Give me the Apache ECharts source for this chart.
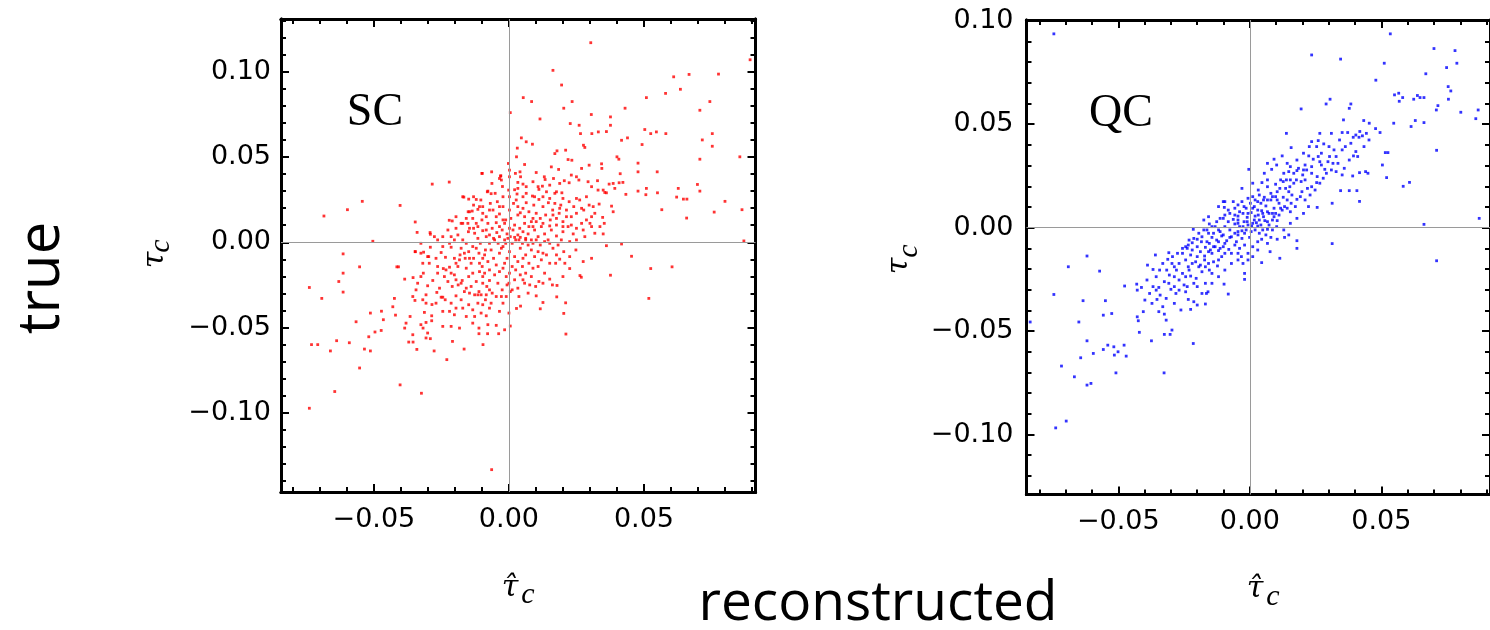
<!DOCTYPE html>
<html><head><meta charset="utf-8">
<script src="https://cdn.jsdelivr.net/npm/echarts@6/dist/echarts.min.js"></script>
<style>html,body{margin:0;padding:0;background:#fff}#c{width:1490px;height:630px}</style>
</head><body><div id="c"></div>
<script>
// ---- data ----
const panelNames = ['SC', 'QC'];
const scPoints = [
[0.0303,0.117],[0.0893,0.107],[0.0163,0.1008],[0.061,0.097],[0.0667,0.0984],[0.0776,0.0986],[0.0195,0.0922],[0.0635,0.0897],[0.058,0.0873],[0.0053,0.0848],[0.0084,0.0825],[0.0234,0.0825],[0.0744,0.0825],[0.0707,0.0774],[0.0509,0.0848],[0.0203,0.0786],[0.043,0.0786],[0.0005,0.076],[0.0305,0.0749],[0.0376,0.0735],[0.0115,0.0723],[0.0227,0.0696],[0.026,0.0686],[0.0376,0.0686],[0.0503,0.0661],[0.0525,0.0637],[0.0546,0.0647],[0.0581,0.0637],[0.0716,0.06],[0.0753,0.0637],[0.0753,0.0563],[0.0331,0.0647],[0.0361,0.0649],[0.0307,0.0637],[0.0265,0.0637],[0.0417,0.0598],[0.0439,0.0612],[0.0493,0.0573],[0.0707,0.0487],[0.0855,0.0501],[0.0698,0.0339],[0.0707,0.03],[0.08,0.024],[0.0863,0.0191],[0.076,0.0177],[0.0658,0.0142],[0.0627,0.0316],[0.0621,0.0265],[0.0646,0.0253],[0.0659,0.0253],[0.0549,0.0413],[0.055,0.029],[0.0566,0.0191],[0.0478,0.0464],[0.0478,0.0413],[0.0478,0.03],[0.0509,0.0316],[0.0507,0.0279],[0.087,0.0008],[0.0604,-0.0144],[0.0525,-0.0154],[0.0518,-0.0329],[0.0454,-0.0082],[0.0417,-0.001],[0.0376,-0.0193],[0.0361,-0.002],[0.0263,-0.0195],[0.0268,-0.0205],[0.0211,-0.0538],[0.0203,-0.0417],[0.021,-0.0355],[0.0225,-0.0154],[0.0177,-0.032],[0.0178,-0.0253],[0.0126,-0.0353],[0.0116,-0.039],[0.0101,-0.0314],[0.0028,-0.0388],[0.0043,-0.0374],[0.0005,-0.0491],[-0.0016,-0.0513],[-0.0047,-0.0487],[-0.0038,-0.0536],[-0.0064,-0.1333],[-0.0079,-0.0536],[-0.0111,-0.0503],[-0.0111,-0.0536],[-0.0096,-0.06],[-0.0166,-0.0626],[-0.0209,-0.0581],[-0.023,-0.0688],[-0.0277,-0.0637],[-0.0324,-0.0885],[-0.0403,-0.0836],[-0.0307,-0.0561],[-0.0291,-0.0565],[-0.0341,-0.0628],[-0.0355,-0.0585],[-0.0371,-0.0585],[-0.0386,-0.0503],[-0.0318,-0.0503],[-0.043,-0.0378],[-0.0424,-0.0329],[-0.042,-0.0427],[-0.0472,-0.0404],[-0.0465,-0.0454],[-0.0473,-0.0517],[-0.0496,-0.0526],[-0.0513,-0.0415],[-0.0519,-0.0554],[-0.0513,-0.0637],[-0.0535,-0.0626],[-0.0553,-0.0737],[-0.0566,-0.0466],[-0.0591,-0.0589],[-0.0638,-0.0577],[-0.0661,-0.0637],[-0.0645,-0.0875],[-0.0708,-0.06],[-0.0731,-0.06],[-0.0739,-0.0265],[-0.0739,-0.0973],[-0.0693,-0.0329],[-0.063,-0.023],[-0.0614,-0.0292],[-0.0614,-0.0181],[-0.0614,-0.0068],[-0.0553,-0.0144],[-0.0504,0.0006],[-0.0685,0.0154],[-0.0598,0.0191],[-0.0543,0.024],[-0.0403,0.0216],[-0.0284,0.0341],[-0.0221,0.0353],[-0.0415,-0.0144],[-0.0409,-0.0144],[-0.0386,-0.0216],[-0.0355,-0.0207],[-0.0347,0.0119],[-0.034,0.0058],[-0.0347,-0.0055],[-0.0291,0.0047],[-0.0276,0.0033],[-0.0291,-0.0029],[-0.0316,-0.0058],[-0.0297,-0.0084],[-0.0221,0.0129],[-0.0167,0.0265],[-0.0099,0.0404],[-0.0064,0.0413],[-0.0031,0.0388],[-0.0002,0.0462],[0.0028,0.0501],[0.0046,0.0612],[0.0064,0.0589],[0.0031,0.0552],[0.0087,0.0575],[-0.008,0.0296],[-0.0146,0.0179],[-0.0136,0.0183],
[0.0002,0.0423],[0.0041,0.0413],[0.0058,0.0456],[0.0101,0.0409],[0.0131,0.0384],[0.0157,0.0442],[0.017,0.052],[0.0178,0.0536],[0.0184,0.0427],[0.021,0.054],[0.0219,0.0485],[0.0233,0.0481],[0.0276,0.0569],[0.0281,0.0556],[0.0269,0.0433],[0.0297,0.0452],[0.0343,0.046],[0.0344,0.0433],[0.04,0.0501],[0.0407,0.0487],[0.0412,0.0402],[-0.003,0.039],[-0.01,0.0404],
[-0.0035,0.0374],[-0.0028,0.0365],[0.0002,0.0384],[0.0024,0.0404],[0.0033,0.0351],[0.0043,0.0384],[0.0052,0.0341],[0.0064,0.0326],[0.0089,0.0355],[0.0108,0.0326],[0.0124,0.0329],[0.0134,0.0368],[0.0151,0.0335],[0.0165,0.0374],[0.0188,0.0345],[0.0205,0.0361],[0.0223,0.0349],[0.0231,0.0394],[0.025,0.0384],[0.0259,0.0365],[0.0293,0.0355],[0.0306,0.0326],[0.0328,0.0361],[0.0349,0.0306],[0.0355,0.0292],[0.0371,0.0341],[0.0386,0.0345],[0.0408,0.0349],[0.0422,0.0351],[0.0433,0.0281],[0.0392,0.0316],[0.033,0.0306],[0.0361,0.029],[0.0196,0.029],[0.017,0.0287],[0.0139,0.0296],[0.0111,0.031],[0.0087,0.0271],[0.0064,0.0287],[0.003,0.0283],[0.0021,0.0308],[-0.0001,0.0306],[-0.0024,0.0327],[-0.0051,0.0287],[-0.0066,0.0285],[-0.0078,0.03],[-0.0104,0.0248],[-0.0121,0.0251],[-0.0131,0.0267],[-0.0149,0.0253],[-0.0063,0.0345],
[-0.0171,0.0267],[-0.0151,0.0179],[-0.0134,0.014],[-0.0115,0.0193],[-0.0097,0.0209],[-0.0084,0.015],[-0.0069,0.0228],[-0.0059,0.0189],[-0.0043,0.0238],[-0.0035,0.0166],[-0.0022,0.0209],[-0.0012,0.0131],[0.0002,0.0189],[0.0007,0.014],[0.0017,0.0228],[0.0027,0.0248],[0.0033,0.0209],[0.0042,0.0173],[0.0052,0.0199],[0.0058,0.015],[0.0064,0.0232],[0.0074,0.0179],[0.0083,0.0121],[0.0092,0.0218],[0.0101,0.017],[0.0111,0.0251],[0.0116,0.014],[0.0126,0.0209],[0.0136,0.016],[0.0146,0.0232],[0.0153,0.0131],[0.0162,0.0189],[0.017,0.0228],[0.0176,0.014],[0.0186,0.017],[0.0192,0.0218],[0.02,0.0121],[0.0213,0.0189],[0.0223,0.0238],[0.0231,0.015],[0.024,0.0209],[0.025,0.017],[0.0262,0.0248],[0.0277,0.0189],[0.0287,0.0131],[0.0297,0.0218],[0.0306,0.015],[0.0318,0.017],[0.0334,0.0224],[0.0347,0.0146],[0.0353,0.0111],[0.038,0.0212],[0.0386,0.0179],[0.025,0.0257],[-0.021,0.0125],[-0.0196,0.015],[-0.0177,0.0111],[-0.0158,0.014],[-0.0121,0.0111],[-0.01,0.0131],[-0.0078,0.0111],[-0.0047,0.0115],
[-0.0292,0.0057],[-0.0226,0.0072],[-0.0214,0.0033],[-0.0189,0.0043],[-0.0171,0.0014],[-0.015,0.0062],[-0.0131,0.0082],[-0.0115,0.0023],[-0.0097,0.0068],[-0.0084,0.0033],[-0.0072,0.0043],[-0.0062,0.0082],[-0.0053,0.0014],[-0.0045,0.0057],[-0.0035,0.0033],[-0.0025,0.0072],[-0.0016,0.0014],[-0.0007,0.0049],[0.0005,0.0033],[0.0015,0.0072],[0.0025,0.0014],[0.0033,0.0043],[0.0042,0.0029],[0.0052,0.0062],[0.0062,0.0023],[0.0071,0.0049],[0.0083,0.0014],[0.0095,0.0072],[0.0108,0.0033],[0.012,0.0092],[0.0132,0.0049],[0.0145,0.0014],[0.0157,0.0072],[0.0176,0.0037],[0.0194,0.0014],[0.02,0.0062],[0.0219,0.0092],[0.0238,0.0049],[0.025,0.0014],[0.0275,0.0072],[0.0281,0.0033],[0.0306,0.0092],[0.0318,0.0053],[0.0349,0.0049],[0.03,0.0111],[0.0231,0.0101],[0.0151,0.0096],[0.0074,0.0092],[0.004,0.0082],
[-0.0347,-0.0055],[-0.0326,-0.0064],[-0.0301,-0.0084],[-0.027,-0.0094],[-0.0251,-0.006],[-0.0235,-0.0088],[-0.0214,-0.0029],[-0.0196,-0.0123],[-0.0181,-0.0074],[-0.0162,-0.0094],[-0.0146,-0.0094],[-0.0131,-0.0094],[-0.0121,-0.0035],[-0.0109,-0.0123],[-0.0099,-0.0142],[-0.009,-0.0074],[-0.0078,-0.0113],[-0.0066,-0.0045],[-0.0057,-0.0094],[-0.0047,-0.0133],[-0.0035,-0.0064],[-0.0022,-0.0025],[-0.0016,-0.0123],[-0.0007,-0.0094],[0.0002,-0.0055],[0.0012,-0.0142],[0.0021,-0.0084],[0.0033,-0.0113],[0.0042,-0.0035],[0.0052,-0.0094],[0.0062,-0.0074],[0.0074,-0.0123],[0.0083,-0.0045],[0.0095,-0.0084],[0.0108,-0.0142],[0.012,-0.0103],[0.0139,-0.0074],[0.0173,-0.0123],[0.0188,-0.0099],[0.0203,-0.0055],[0.0248,-0.0045],[0.0275,-0.0113],[0.0306,-0.0094],[-0.0158,-0.0152],[-0.0189,-0.0142],[-0.022,-0.0146],[-0.0243,-0.0154],[-0.0264,-0.0142],
[-0.0338,-0.024],[-0.0317,-0.0181],[-0.0301,-0.0255],[-0.0282,-0.0224],[-0.0264,-0.0181],[-0.0257,-0.0269],[-0.0239,-0.0201],[-0.0226,-0.023],[-0.021,-0.0259],[-0.0202,-0.0191],[-0.0188,-0.025],[-0.0173,-0.0224],[-0.0165,-0.0289],[-0.0149,-0.0201],[-0.014,-0.0259],[-0.0121,-0.023],[-0.0111,-0.0289],[-0.0097,-0.0201],[-0.0082,-0.0259],[-0.0072,-0.0224],[-0.0062,-0.0298],[-0.0053,-0.0191],[-0.0041,-0.024],[-0.0025,-0.0279],[-0.001,-0.0201],[-0.0007,-0.025],[0.0005,-0.0289],[0.0021,-0.022],[0.0033,-0.0269],[0.0042,-0.0191],[0.0058,-0.024],[0.0071,-0.0298],[0.0083,-0.0201],[0.0099,-0.0259],[0.0111,-0.023],[0.0132,-0.0181],[0.0151,-0.0216],[0.0161,-0.025],[0.02,-0.0201],[-0.0344,-0.0279],[-0.0307,-0.0308],[-0.0267,-0.0294],[-0.0245,-0.0322],[-0.0196,-0.0314],[-0.0146,-0.0298],[-0.0127,-0.0308],[-0.0115,-0.0308],[-0.0103,-0.0308],[-0.0084,-0.0308],[-0.0047,-0.0318],[-0.001,-0.0318],
[-0.0348,-0.0341],[-0.0307,-0.0357],[-0.0285,-0.0365],[-0.0251,-0.0322],[-0.0236,-0.0337],[-0.0214,-0.0357],[-0.0196,-0.0386],[-0.0177,-0.0337],[-0.0149,-0.0366],[-0.0097,-0.0366],[-0.0087,-0.0337],[-0.0066,-0.0357],[-0.0035,-0.0405],[0,-0.0415],[-0.0245,-0.0405],[-0.022,-0.0405],[-0.0202,-0.0425],[-0.0158,-0.0435],[-0.0127,-0.0435],[-0.0313,-0.0411],[-0.0286,-0.0431],[-0.0286,-0.046],[-0.0307,-0.047],[-0.0326,-0.0483],[-0.0366,-0.0435],[-0.0381,-0.0474],[-0.0356,-0.0542],[-0.0245,-0.0493],[-0.0214,-0.0493],[-0.0183,-0.0503],[-0.0134,-0.0474],[-0.0078,-0.0483],[-0.0301,-0.0532],[-0.0084,-0.0431],
[-0.0152,0.0111],[-0.0127,0.0053],[-0.0106,-0.0006],[-0.0087,-0.0045],[-0.0072,-0.0006],[-0.0057,0.0023],[-0.004,-0.0006],[-0.0028,-0.0035],[-0.0012,-0.0006],[-0.0004,0.0023],[0.0012,-0.0006],[0.0021,0.0029],[0.0037,0.0014],[0.005,-0.0006],[0.0062,0.0014],[0.0071,-0.0016],[0.0089,-0.0006],[0.0101,0.0014],[0.0116,-0.0016],[0.0132,0.0004],[0.0151,-0.0006],[0.0163,-0.0035],[0.0182,-0.0016],[-0.0097,-0.0094],[-0.0111,-0.0064],[-0.014,-0.0123],[-0.0165,-0.0064],[-0.0183,-0.0103],[-0.0202,-0.0094],[-0.0134,-0.0181],[-0.0109,-0.0172],[-0.009,-0.0181],[-0.0072,-0.0162],[-0.0035,-0.0172],[-0.0022,-0.0152],[0.0002,-0.0181],[0.0025,-0.0162],[0.005,-0.0142],[0.0062,-0.0181],[0.0089,-0.0152],[0,-0.024],[0.0012,-0.0279],[-0.0028,-0.0318],[-0.0072,-0.0279],[-0.0097,-0.024],[-0.0158,-0.0269],[-0.0177,-0.024],[-0.0196,-0.022],[-0.0214,-0.0181],[-0.0149,-0.0055],[-0.0134,-0.0025],[-0.0158,-0.0006],[-0.0177,-0.0035],[-0.0202,0.0014],[-0.022,-0.0006],[-0.0245,-0.0025],[-0.0264,0.0014],[-0.0245,0.0033],[-0.0196,0.0082],[-0.0171,0.0111],[-0.0146,0.0082],[-0.0115,0.0092],[-0.0084,0.0072],[-0.0035,0.0092],[-0.0016,0.0111],[0.0002,0.0082],[0.0021,0.0101],[0.0058,0.0111],[0.0089,0.0092],[0.0101,0.0121],[0.0126,0.0111],[0.0176,0.0101],[0.02,0.0092],[0.025,0.0082],[0.0269,0.0111],[0.0213,0.015],[0.0269,0.0199],[0.02,0.0257],[0.0176,0.0296],[0.0151,0.0257],[0.0126,0.0267],[0.0095,0.0267],[0.0052,0.0267],[0.0033,0.0316],[0.0002,0.0267],[-0.0022,0.0267],[-0.0035,0.0209],[-0.0072,0.0189],[-0.0097,0.017],[-0.0109,0.0209],[-0.0131,0.0218],[-0.0047,0.015],[-0.0022,0.0131],[0.0033,0.016],[0.0089,0.014],[0.0163,0.016],[0.0188,0.0199],[0.0287,0.0267],[0.0312,0.0209],[0.0337,0.0092],[0.0225,0.0004],[0.0176,-0.0074],[0.0151,-0.0123],[0.0126,-0.0064],[0.0108,-0.0055],[0.0207,-0.0123],[0.0225,-0.0084],[0.0052,-0.022],[0.0077,-0.025],[0.0126,-0.024],[0.0037,-0.0318],[-0.0022,-0.0357],[-0.0072,-0.0386],[-0.0115,-0.0357],[-0.0134,-0.0396],[-0.0171,-0.0386],[-0.0103,-0.0415],[-0.027,-0.0357],[-0.0319,-0.0337],[-0.0356,-0.0318],[-0.0326,-0.0201],[-0.0295,-0.0123],[-0.0233,-0.0162],[-0.0326,-0.0006],[-0.0319,-0.0123]
];
const qcPoints = [
[-0.0745,0.0937],[0.0534,0.0937],[0.07,0.0866],[0.078,0.0856],[0.0787,0.0795],[0.0748,0.0774],[0.0235,0.0835],[0.0345,0.0815],[0.0511,0.0795],[0.0669,0.0744],[0.0479,0.0713],[0.0754,0.0682],[0.0764,0.0661],[0.0755,0.0621],[0.055,0.0642],[0.0566,0.065],[0.0568,0.0611],[0.0581,0.0629],[0.0623,0.0621],[0.0637,0.0639],[0.0647,0.0629],[0.0662,0.0629],[0.0715,0.059],[0.0709,0.0569],[0.0802,0.0558],[0.0868,0.0569],[0.0859,0.0527],[0.0547,0.0505],[0.0662,0.0508],[0.0629,0.0518],[0.0613,0.0489],[0.0495,0.046],[0.0478,0.0479],[0.0454,0.0505],[0.0433,0.0518],[0.071,0.0374],[0.0515,0.0363],[0.0525,0.0363],[0.0504,0.0303],[0.052,0.0242],[0.0583,0.02],[0.0607,0.0219],[0.0662,0.0016],[0.0872,0.0045],[0.071,-0.016],[0.0313,-0.0077],[0.0417,0.0127],[0.0407,0.0179],[0.0378,0.0179],[0.0345,0.0179],[0.0313,0.0118],[0.0256,0.0098],[0.0195,0.0574],[0.0139,0.0456],[0.029,0.0598],[0.0305,0.0621],[0.0384,0.0598],[0.0378,0.0577],[0.0356,0.0521],[0.0351,0.046],[0.0372,0.046],[0.0393,0.0437],[0.0403,0.0448],[0.0418,0.0465],[0.0415,0.0437],[0.0428,0.0444],[0.041,0.0344],[0.0394,0.0347],[0.0384,0.0408],[0.0363,0.0392],[0.0351,0.0376],[0.032,0.0376],[0.0301,0.0392],[0.0281,0.0405],[0.026,0.0421],[0.0235,0.0416],[0.0226,0.0392],[0.0224,0.0347],[0.0157,0.0387],[0.0123,0.0347],[0.0092,0.0331],[0.0067,0.0311],[0.0083,0.0282],[0.0102,0.0303],[0.0142,0.0311],[0.044,0.0271],[0.0449,0.0263],[0.0417,0.0266],[0.0391,0.025],[0.0359,0.0287],[0.0351,0.0255],[0.0328,0.0271],[0.0316,0.0311],[0.0297,0.0319],[0.0272,0.0303],[0.0285,0.0282],[0.0256,0.0247],[0.0235,0.0263],[0.0241,0.0331],[0.0254,0.0218],[0.0219,0.019],[0.021,0.0231],[0.0201,0.0255],[0.0195,0.0223],[0.0179,0.0276],[0.0177,0.0231],[0.0167,0.0215],[0.0152,0.0198],[0.0139,0.0231],[0.0127,0.0223],[0.0114,0.019],[0.0104,0.0174],[0.0098,0.021],[0.008,0.0166],[0.0067,0.0198],[0.0055,0.0147],[0.0046,0.0218],[0.016,0.0158],[0.0142,0.0134],[0.0132,0.0102],[0.0154,0.0077],[0.0148,0.0174],[0.0179,0.0137],[0.0198,0.0174],[0.0127,0.0147],[0.0111,0.0118],[0.0092,0.0094],[0.008,0.0134],[0.0073,0.0069],[0.0061,0.0105],[0.0045,0.0082],[0.003,0.0126],[0.0017,0.0102],[0.0011,0.015],[0.0002,0.0118],[-0.0004,0.0282],[-0.0014,0.0094],[-0.003,0.0126],[-0.0045,0.011],[-0.0063,0.0126],[-0.0095,0.0126],[-0.0097,0.0098],[-0.0119,0.0102],[-0.0175,0.0037],[-0.0215,-0.0008],[-0.0126,0.0029],[-0.0101,0.0045],[-0.0082,0.0029],[-0.0063,0.004],[-0.0045,0.0056],[-0.0026,0.0069],[-0.001,0.005],[0.0005,0.0073],[0.002,0.0056],[0.0036,0.0037],[0.0052,0.0053],[0.0067,0.0029],[0.0086,0.0037],[0.0104,0.0034],[0.0011,0.0021],[0.003,0.0008],[0.0049,-0.0011],[0.0067,-0.0008],[0.0086,-0.0011],[0.0102,0.0005],[-0.0007,0.0013],[-0.0022,0.0029],[-0.0039,0.0005],[-0.0057,0.0018],[-0.0076,-0.0011],[-0.0095,0.0005],[-0.0113,-0.0019],[-0.0045,-0.0019],[-0.002,-0.0027],[-0.0001,-0.0047],[-0.003,-0.0052],[-0.0051,-0.0068],[-0.007,-0.0044],[-0.0088,-0.0063],[-0.0107,-0.004],[-0.0126,-0.006],[-0.0144,-0.0047],[-0.0154,-0.0076],[-0.0169,-0.0095],[-0.0184,-0.0068],[-0.02,-0.0092],[-0.0219,-0.0108],[-0.0234,-0.0084],[-0.0225,-0.0132],[-0.02,-0.014],[-0.0172,-0.0137],[-0.0144,-0.0124],[-0.0119,-0.0111],[-0.0101,-0.0092],[-0.008,-0.0105],[-0.0057,-0.0084],[-0.0039,-0.01],[-0.002,-0.0084],[-0.0007,-0.0124],[0.0011,-0.0092],[0.003,-0.0068],[0.0045,-0.0056],[0.0061,-0.0035],[0.008,-0.0047],[0.0132,-0.0047],[0.0179,-0.0063],[0.0179,-0.01],[0.0077,-0.0116],[0.0045,-0.0169],[0.0114,-0.0148],[-0.002,-0.0221],[-0.002,-0.025],[-0.0082,-0.0321],[-0.0098,-0.0273],[-0.0123,-0.0185],[-0.0144,-0.0221],[-0.0157,-0.0173],[-0.0172,-0.0156],[-0.0182,-0.0213],[-0.0194,-0.0189],[-0.0204,-0.0245],[-0.0213,-0.0269],[-0.0225,-0.0234],[-0.0234,-0.0189],[-0.0238,-0.0285],[-0.0244,-0.0156],[-0.0256,-0.0221],[-0.0269,-0.0253],[-0.0279,-0.0205],[-0.0287,-0.0285],[-0.0306,-0.0229],[-0.0316,-0.0205],[-0.0325,-0.0261],[-0.0312,-0.0153],[-0.0308,-0.0121],[-0.0359,-0.0132],[-0.0389,-0.0181],[-0.0391,-0.0253],[-0.043,-0.0273],[-0.0428,-0.0302],[-0.0412,-0.0289],[-0.0368,-0.0285],[-0.0356,-0.0302],[-0.0346,-0.0289],[-0.0341,-0.0326],[-0.03,-0.0298],[-0.0281,-0.0318],[-0.0318,-0.0342],[-0.0353,-0.0347],[-0.0234,-0.0347],[-0.0213,-0.0358],[-0.0225,-0.0395],[-0.02,-0.0374],[-0.0169,-0.0369],[-0.0165,-0.0318],[-0.0331,-0.0382],[-0.0325,-0.0418],[-0.0346,-0.0406],[-0.0318,-0.0447],[-0.0405,-0.0406],[-0.0428,-0.0431],[-0.0424,-0.045],[-0.042,-0.0506],[-0.0374,-0.0547],[-0.0325,-0.0516],[-0.0303,-0.0516],[-0.0296,-0.0495],[-0.0215,-0.056],[-0.0326,-0.0702],[-0.0476,-0.0282],[-0.0549,-0.0353],[-0.0525,-0.0415],[-0.0557,-0.0423],[-0.0619,-0.0137],[-0.0571,-0.021],[-0.069,-0.0189],[-0.0745,-0.0323],[-0.0634,-0.0353],[-0.065,-0.0456],[-0.0619,-0.0547],[-0.0595,-0.0608],[-0.0643,-0.0629],[-0.0716,-0.0669],[-0.0667,-0.0721],[-0.0619,-0.0761],[-0.0604,-0.0753],[-0.0557,-0.0589],[-0.054,-0.0568],[-0.0517,-0.0576],[-0.0515,-0.0616],[-0.0501,-0.06],[-0.0509,-0.0702],[-0.0478,-0.0568],[-0.047,-0.0621],[-0.0738,-0.0968],[-0.0698,-0.0935],[-0.0835,-0.0456],
[-0.0057,-0.0027],[-0.0045,-0.0035],[-0.003,-0.0015],[-0.0014,-0.0011],[0.0005,-0.0019],[0.002,-0.0011],[0.0036,-0.0027],[0.0017,0.0037],[0.0032,0.0061],[0.0049,0.0069],[0.0067,0.0077],[0.0086,0.0069],[0.0098,0.0069],[0.0117,0.0094],[0.0104,0.0134],[0.0086,0.015],[0.0067,0.0134],[0.0042,0.0118],[0.003,0.0085],[0.0011,0.0094],[-0.0007,0.0069],[-0.0045,0.0037],[-0.0057,0.0061],[-0.0076,0.0069],[-0.0076,-0.0047],[-0.0095,-0.0076],[-0.0113,-0.01],[-0.0132,-0.0092],[-0.015,-0.0108],[-0.0163,-0.0068],[-0.0138,-0.0027],[-0.0157,-0.0027],[-0.0182,-0.0044],[-0.02,-0.0056],[-0.0219,-0.0073],[-0.0238,-0.01],[-0.0256,-0.0124],[-0.0269,-0.0173],[-0.0287,-0.0189],[-0.0219,-0.0173],[-0.0188,-0.0181],[-0.0169,-0.0189],[-0.0138,-0.0165],[-0.0107,-0.014],[-0.0095,-0.0124],[-0.007,-0.0124],[-0.0045,-0.0124],[-0.0032,-0.014],[-0.0119,-0.0156],[-0.0154,-0.0205],[-0.02,-0.0285],[-0.0244,-0.031],[-0.0169,-0.0269],[-0.0159,-0.031],[0.0148,0.0271],[0.0204,0.0279],[0.021,0.0303],[0.0235,0.0295],[0.026,0.0344],[0.0272,0.036],[0.0266,0.0319],[0.0303,0.0344],[0.0328,0.0344],[0.031,0.0279],[0.0167,0.0263],[0.0129,0.0263],[0.0117,0.0231],[0.0154,0.0295],[0.0055,0.0263],[0.0067,0.0231],[0.0032,0.0182],[0.0011,0.0215],[-0.003,0.019],[-0.0101,0.0126],[-0.0157,0.0053],[-0.0144,0.0005],[-0.0119,-0.0011],[-0.0175,-0.0011],
[-0.0045,0.0021],[-0.0026,0.0005],[-0.001,0.0029],[0.0007,0.0008],[0.0025,0.0024],[0.0042,0.0013],[0.0057,0.0034],[0.0073,0.0013],[0.0092,0.0053],[0.0111,0.0061],[0.0123,0.0085],[0.0142,0.0094],[0.0157,0.0118],[0.0173,0.0102],[0.0192,0.015],[0.021,0.0134],[0.0229,0.0158],[0.0235,0.0198],[0.0248,0.0182],[0.0266,0.0215],[0.0279,0.0239],[0.0291,0.0263],[0.0335,0.0311],[0.0378,0.0327],[0.0403,0.0368],[0.0434,0.0392],[0.0453,0.0424],[0.0443,0.0456],[0.0341,0.0424],[0.031,0.0456],[0.0266,0.0456],[0.0254,0.0392],[0.0204,0.036],[0.0179,0.0327],[0.0185,0.0287],[0.0216,0.0279],[0.0154,0.0231],[0.0136,0.019],[0.0098,0.015],[0.0052,0.0134],[0.0036,0.0158],[0.002,0.0134],[-0.0007,0.0142],[-0.0022,0.0102],[-0.0039,0.0077],[-0.0057,0.0094],[-0.0082,0.0085],[-0.0095,0.0061],[-0.0113,0.0045],[-0.0132,0.0005],[-0.0154,0.0018],[-0.0163,-0.0011],[-0.0194,-0.0027],[-0.0213,-0.0052],[-0.0231,-0.006],[-0.0244,-0.0092],[-0.0256,-0.01],[-0.0275,-0.0124],[-0.0294,-0.014],[-0.0296,-0.0173],[-0.0331,-0.0173],[-0.0343,-0.0205],[-0.0356,-0.0237],[-0.0368,-0.0202],[-0.0287,-0.0237],[-0.025,-0.0277],[-0.0269,-0.0302],[-0.0308,-0.0269],[-0.0381,-0.0318],[-0.0399,-0.035],[-0.0372,-0.0366],[-0.0287,-0.0366],[-0.0262,-0.0398],[-0.0182,-0.0318],[-0.0144,-0.0269],[-0.0119,-0.0237],[-0.0095,-0.0205],[-0.007,-0.0173],[-0.0045,-0.0156],[-0.0026,-0.0173],[-0.0007,-0.0156],[0.0011,-0.014],[0.003,-0.0108],[0.0067,-0.0076],[0.0104,-0.0056],[0.0148,-0.0035],[0.0129,-0.0011],[0.0154,0.0021],[0.0179,0.0045],[0.0204,0.0069],[0.0223,0.0102],[-0.0101,-0.0035],[-0.0119,-0.0068],[-0.0138,-0.0092],[-0.0157,-0.0116],[-0.0188,-0.0116],[-0.0206,-0.0165],[-0.0231,-0.0205],[-0.0244,-0.0237]
];
const xMajorTicks = [-0.05, 0.00, 0.05];
const yMajorTicks = [-0.10, -0.05, 0.00, 0.05, 0.10];
const xMinorTicks = [-0.08,-0.07,-0.06,-0.04,-0.03,-0.02,-0.01,0.01,0.02,0.03,0.04,0.06,0.07,0.08,0.09];
const yMinorTicksSC = [-0.14,-0.13,-0.12,-0.11,-0.09,-0.08,-0.07,-0.06,-0.04,-0.03,-0.02,-0.01,0.01,0.02,0.03,0.04,0.06,0.07,0.08,0.09,0.11,0.12,0.13];
const yMinorTicksQC = [-0.12,-0.11,-0.09,-0.08,-0.07,-0.06,-0.04,-0.03,-0.02,-0.01,0.01,0.02,0.03,0.04,0.06,0.07,0.08,0.09];
const xTitle = '\u03c4\u0302';
const yTitle = '\u03c4';
const subTitle = 'c';
const leftLabel = 'true';
const bottomLabel = 'reconstructed';

// ---- layout ----
const grids = [
  {left: 281, top: 19, width: 474.5, height: 473, xr: [-0.0844, 0.0913], yr: [-0.1464, 0.1309], yMinor: yMinorTicksSC, ylm: 10},
  {left: 1026.5, top: 20, width: 474.5, height: 474.5, xr: [-0.0849, 0.0913], yr: [-0.129, 0.1004], yMinor: yMinorTicksQC, ylm: 13}
];
const fmt = v => (v < 0 ? '\u2212' : '') + Math.abs(v).toFixed(2);

const xAxes = [], yAxes = [];
function mkAxis(g, pos, rng, ticks, len, showLabel, margin) {
  return {
    type: 'value', gridIndex: g, position: pos, min: rng[0], max: rng[1],
    axisLine: {show: true, onZero: false, lineStyle: {color: '#000', width: 3}},
    axisTick: {show: true, inside: true, length: len, customValues: ticks, lineStyle: {color: '#000', width: 2}},
    axisLabel: {show: showLabel, customValues: ticks, formatter: fmt, fontFamily: 'DejaVu Sans', fontSize: 27, color: '#000', margin: margin},
    splitLine: {show: false}, minorTick: {show: false}, axisPointer: {show: false}
  };
}
grids.forEach((gr, g) => {
  xAxes.push(mkAxis(g, 'bottom', gr.xr, xMajorTicks, 8, true, 14));
  xAxes.push(mkAxis(g, 'bottom', gr.xr, xMinorTicks, 5, false, 0));
  xAxes.push(mkAxis(g, 'top', gr.xr, xMajorTicks, 8, false, 0));
  xAxes.push(mkAxis(g, 'top', gr.xr, xMinorTicks, 5, false, 0));
  yAxes.push(mkAxis(g, 'left', gr.yr, yMajorTicks, 8, true, gr.ylm));
  yAxes.push(mkAxis(g, 'left', gr.yr, gr.yMinor, 5, false, 0));
  yAxes.push(mkAxis(g, 'right', gr.yr, yMajorTicks, 8, false, 0));
  yAxes.push(mkAxis(g, 'right', gr.yr, gr.yMinor, 5, false, 0));
});

const series = [];
[scPoints, qcPoints].forEach((pts, g) => {
  series.push({
    type: 'scatter', xAxisIndex: g * 4, yAxisIndex: g * 4, data: [], z: 1, silent: true,
    markLine: {silent: true, symbol: ['none', 'none'], label: {show: false}, animation: false,
      lineStyle: {color: '#9a9a9a', width: 1, type: 'solid'},
      data: [{xAxis: 0}, {yAxis: 0}]}
  });
  series.push({
    type: 'scatter', name: panelNames[g], xAxisIndex: g * 4, yAxisIndex: g * 4, data: pts, z: 3,
    symbol: 'rect', symbolSize: 2.8,
    itemStyle: {color: g === 0 ? '#ff0000' : '#0000ff'}
  });
});

function subTitleGroup(x, y, rot, main, dx, dy) {
  return {type: 'group', x: x, y: y, rotation: rot, children: [
    {type: 'text', x: 0, y: 0, style: {text: main, fontFamily: 'DejaVu Serif', fontStyle: 'italic', fontSize: 30, fill: '#000', align: 'center', verticalAlign: 'middle'}},
    {type: 'text', x: dx, y: dy, style: {text: subTitle, fontFamily: 'Liberation Serif', fontStyle: 'italic', fontSize: 30, fill: '#000', align: 'center', verticalAlign: 'middle'}}
  ]};
}

const graphic = [
  {type: 'text', x: 375, y: 113, style: {text: panelNames[0], fontFamily: 'Liberation Serif', fontSize: 46, fill: '#000', align: 'center', verticalAlign: 'middle'}},
  {type: 'text', x: 1121, y: 114, style: {text: panelNames[1], fontFamily: 'Liberation Serif', fontSize: 46, fill: '#000', align: 'center', verticalAlign: 'middle'}},
  {type: 'text', x: 42, y: 278, rotation: Math.PI / 2, style: {text: leftLabel, fontFamily: 'Open Sans', fontSize: 58, fill: '#000', align: 'center', verticalAlign: 'middle'}},
  {type: 'text', x: 878, y: 604, style: {text: bottomLabel, fontFamily: 'Open Sans', fontSize: 55, fill: '#000', align: 'center', verticalAlign: 'middle'}},
  subTitleGroup(510, 588, 0, xTitle, 18, 7),
  subTitleGroup(1255, 589, 0, xTitle, 18, 8),
  subTitleGroup(155, 260, Math.PI / 2, yTitle, 14, 6),
  subTitleGroup(899, 266, Math.PI / 2, yTitle, 15, 10)
];

const chart = echarts.init(document.getElementById('c'), null, {renderer: 'canvas'});
chart.setOption({
  animation: false,
  backgroundColor: '#fff',
  grid: grids.map(g => ({left: g.left, top: g.top, width: g.width, height: g.height, containLabel: false})),
  xAxis: xAxes,
  yAxis: yAxes,
  series: series,
  graphic: graphic
});
</script>
</body></html>
